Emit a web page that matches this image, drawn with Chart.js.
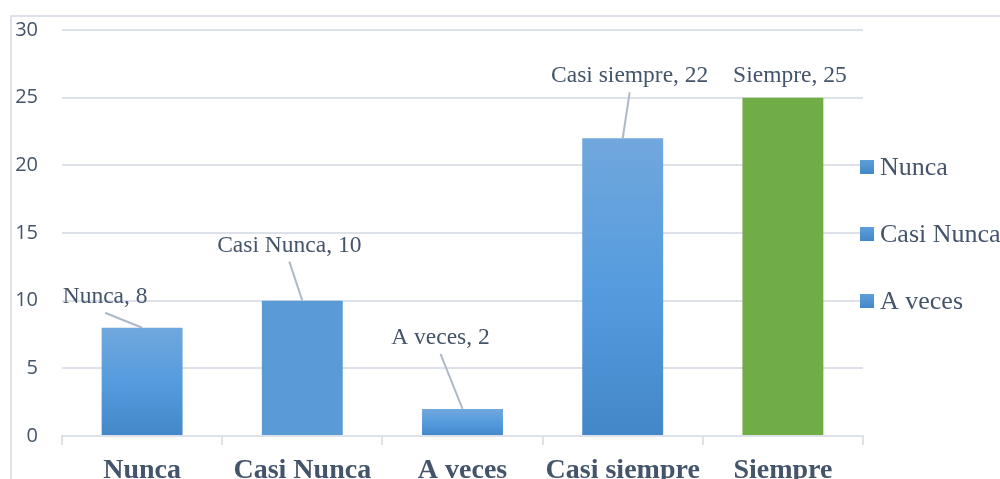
<!DOCTYPE html>
<html>
<head>
<meta charset="utf-8">
<script src="https://cdn.jsdelivr.net/npm/chart.js@4"></script>
<style>
  html, body { margin: 0; padding: 0; background: #fff; }
  #wrap { position: relative; width: 1000px; height: 479px; overflow: hidden; }
  #frame { position: absolute; left: 10px; top: 15px; right: -5px; bottom: -5px;
           border-top: 2px solid #DDE2EA; border-left: 2px solid #DDE2EA; }
  canvas { position: absolute; left: 0; top: 0; }
</style>
</head>
<body>
<div id="wrap">
  <div id="frame"></div>
  <canvas id="bar-chart" width="1000" height="479"></canvas>
</div>
<script>
var categories = ['Nunca', 'Casi Nunca', 'A veces', 'Casi siempre', 'Siempre'];
var values = [8, 10, 2, 22, 25];
var yTicks = [0, 5, 10, 15, 20, 25, 30];
var legendItems = ['Nunca', 'Casi Nunca', 'A veces'];

var colorTop = ['#71A7DD', '#5B9BD5', '#71A7DD', '#71A7DD', '#70AD47'];
var colorMid = ['#559CDE', '#5B9BD5', '#559CDE', '#559CDE', '#70AD47'];
var colorBottom = ['#4387C8', '#5B9BD5', '#4387C8', '#4387C8', '#70AD47'];

// where each value label sits, relative to the top centre of its bar
var labelOffset = [[-37, -31], [-13, -55], [-22, -71], [7, -62], [7, -22]];
var leaderLine = [true, true, true, true, false];

var ink = '#44546A';
var gridColor = '#DDE2EA';

function barGradient(ctx) {
  var chart = ctx.chart;
  var area = chart.chartArea;
  if (!area) return colorMid[ctx.dataIndex];
  var i = ctx.dataIndex;
  var yTop = chart.scales.y.getPixelForValue(values[i]);
  var yBase = chart.scales.y.getPixelForValue(0);
  var g = chart.ctx.createLinearGradient(0, yTop, 0, yBase);
  g.addColorStop(0, colorTop[i]);
  g.addColorStop(0.5, colorMid[i]);
  g.addColorStop(1, colorBottom[i]);
  return g;
}

var labelsPlugin = {
  id: 'valueLabels',
  afterDatasetsDraw: function(chart) {
    var c = chart.ctx;
    var meta = chart.getDatasetMeta(0);
    c.save();
    c.font = '23.5px "Liberation Serif", "Times New Roman", serif';
    c.textAlign = 'center';
    c.textBaseline = 'middle';
    meta.data.forEach(function(bar, i) {
      var lx = bar.x + labelOffset[i][0];
      var ly = bar.y + labelOffset[i][1];
      if (leaderLine[i]) {
        c.strokeStyle = '#ADB9CA';
        c.lineWidth = 2;
        c.beginPath();
        c.moveTo(lx, ly + 16);
        c.lineTo(bar.x, bar.y);
        c.stroke();
      }
      c.fillStyle = ink;
      c.fillText(categories[i] + ', ' + values[i], lx, ly);
    });

    // legend on the right
    var area = chart.chartArea;
    c.textAlign = 'left';
    c.font = '26px "Liberation Serif", "Times New Roman", serif';
    legendItems.forEach(function(name, k) {
      var y = area.top + 137 + k * 67;
      var g = c.createLinearGradient(0, y - 7, 0, y + 7);
      g.addColorStop(0, '#5E9FDA');
      g.addColorStop(1, '#4387C8');
      c.fillStyle = g;
      c.fillRect(area.right - 3, y - 7, 14, 14);
      c.fillStyle = ink;
      c.fillText(name, area.right + 17, y + 1);
    });
    c.restore();
  }
};

new Chart(document.getElementById('bar-chart'), {
  type: 'bar',
  data: {
    labels: categories,
    datasets: [{
      data: values,
      backgroundColor: barGradient,
      categoryPercentage: 1,
      barPercentage: 0.505
    }]
  },
  options: {
    responsive: false,
    animation: false,
    layout: { padding: { left: 0, right: 137, top: 30, bottom: 0 } },
    plugins: {
      legend: { display: false },
      tooltip: { enabled: false }
    },
    scales: {
      x: {
        grid: {
          offset: true,
          drawOnChartArea: false,
          drawTicks: true,
          tickLength: 9,
          color: gridColor,
          lineWidth: 2
        },
        border: { display: true, color: gridColor, width: 2 },
        ticks: {
          color: ink,
          padding: 9,
          autoSkip: false,
          maxRotation: 0,
          minRotation: 0,
          font: { family: '"Liberation Serif", "Times New Roman", serif', size: 28, weight: 'bold' }
        },
        afterFit: function(scale) {
          scale.height = 43;
          scale.paddingTop = 0; scale.paddingBottom = 0;
          scale.paddingLeft = 0; scale.paddingRight = 0;
        }
      },
      y: {
        min: 0,
        max: 30,
        afterBuildTicks: function(scale) {
          scale.ticks = yTicks.map(function(v) { return { value: v }; });
        },
        grid: { color: gridColor, lineWidth: 2, drawTicks: false },
        border: { display: false },
        ticks: {
          color: ink,
          padding: 24,
          font: { family: '"Open Sans", "Noto Sans", sans-serif', size: 20 }
        },
        afterFit: function(scale) {
          scale.width = 62;
          scale.paddingTop = 0; scale.paddingBottom = 0;
        }
      }
    }
  },
  plugins: [labelsPlugin]
});
</script>
</body>
</html>
